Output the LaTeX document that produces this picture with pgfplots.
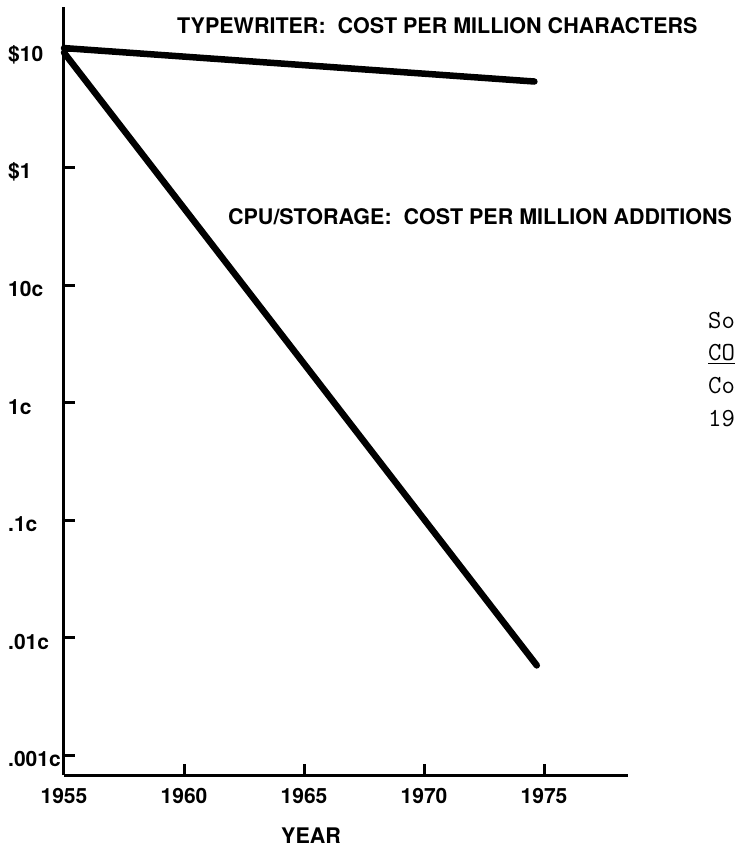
\documentclass[border=0pt]{standalone}
\usepackage{pgfplots}
\pgfplotsset{compat=1.18}
\usepackage{fontspec}
\setmainfont{TeX Gyre Heros}
\begin{document}
\begin{tikzpicture}
% page = 736 x 848, axis corner at (64,775) in pixels of the reference
\path[use as bounding box] (-64pt,-73pt) rectangle (672pt,775pt);
\begin{axis}[
  at={(0pt,0pt)}, anchor=south west,
  scale only axis, width=564pt, height=768pt,
  ymode=log,
  xmin=1955, xmax=1978.5,
  ymin=6.76e-6, ymax=23.5,
  axis x line*=bottom, axis y line*=left,
  axis line style={line width=3pt},
  tick align=inside, major tick length=11pt,
  every tick/.style={black, line width=3pt},
  yminorticks=false,
  /pgf/number format/assume math mode=true,
  xtick={1955,1960,1965,1970,1975},
  xticklabels={1955,1960,1965,1970,1975},
  ytick={1e-5,1e-4,1e-3,1e-2,1e-1,1,10},
  yticklabels={.001c,.01c,.1c,1c,10c,\$1,\$10},
  tick label style={font=\fontsize{21}{25}\selectfont\bfseries},
  xticklabel style={inner sep=0pt, anchor=north, yshift=-13pt},
  yticklabel style={inner sep=0pt, anchor=west, xshift=-56pt, yshift=-4pt},
  clip=false,
]
% typewriter: cost per million characters
\addplot[black, line width=6.5pt, line cap=round] coordinates {(1955,10.5) (1974.6,5.45)};
% cpu/storage: cost per million additions
\addplot[black, line width=6.5pt, line cap=round] coordinates {(1955,9.6) (1974.7,5.8e-5)};

\node[anchor=base west, inner sep=0pt, font=\fontsize{21.5}{25}\selectfont\bfseries]
  at (axis cs:1959.71,14.1) {TYPEWRITER:\ \ COST PER MILLION CHARACTERS};
\node[anchor=base west, inner sep=0pt, font=\fontsize{21.5}{25}\selectfont\bfseries]
  at (axis cs:1961.83,0.327) {CPU/STORAGE:\ \ COST PER MILLION ADDITIONS};
\node[anchor=base, inner sep=0pt, font=\fontsize{21.5}{25}\selectfont\bfseries]
  at (rel axis cs:0.438,0) [yshift=-68pt] {YEAR};
\end{axis}
% source note at the right edge (cut off in the scan)
\begin{scope}[every node/.style={anchor=base west, inner sep=0pt, font=\fontsize{26}{30}\ttfamily}]
\node at (644pt,446pt) {So};
\node at (644pt,414pt) {\underline{CO}};
\node at (644pt,381pt) {Co};
\node at (644pt,348pt) {19};
\end{scope}
\end{tikzpicture}
\end{document}
